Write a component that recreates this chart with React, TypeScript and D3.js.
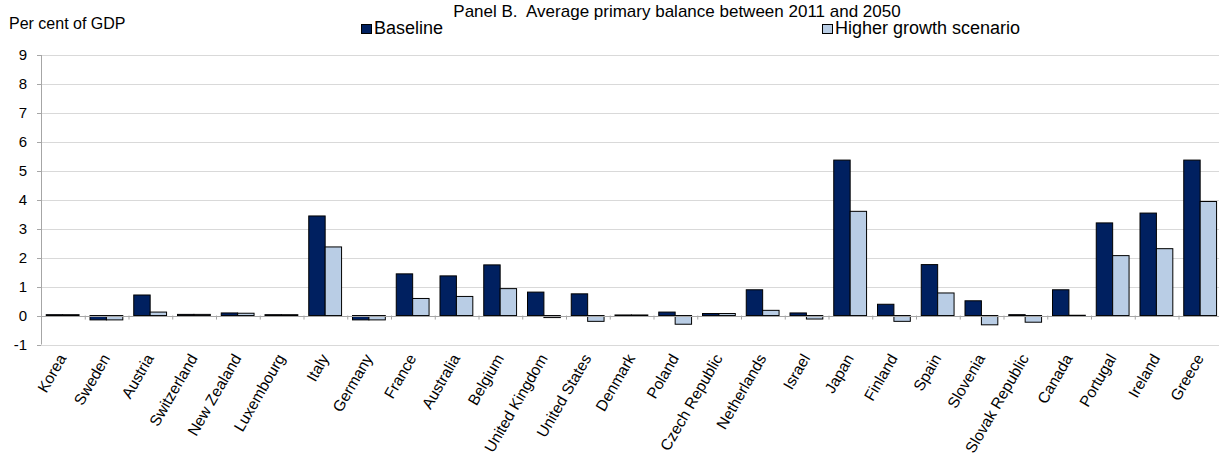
import React from "react";
import * as d3 from "d3";

const categories = [
  "Korea", "Sweden", "Austria", "Switzerland", "New Zealand", "Luxembourg", "Italy",
  "Germany", "France", "Australia", "Belgium", "United Kingdom", "United States",
  "Denmark", "Poland", "Czech Republic", "Netherlands", "Israel", "Japan", "Finland",
  "Spain", "Slovenia", "Slovak Republic", "Canada", "Portugal", "Ireland", "Greece",
];
const baseline = [
  0.03, -0.15, 0.71, 0.04, 0.09, 0.03, 3.44, -0.15, 1.44, 1.37, 1.75, 0.81, 0.75,
  0.02, 0.12, 0.07, 0.89, 0.09, 5.37, 0.39, 1.76, 0.51, 0.03, 0.89, 3.2, 3.54, 5.37,
];
const higherGrowth = [
  0.03, -0.15, 0.12, 0.04, 0.08, 0.03, 2.37, -0.15, 0.59, 0.66, 0.93, -0.07, -0.2,
  0.02, -0.3, 0.07, 0.18, -0.12, 3.6, -0.2, 0.78, -0.32, -0.23, 0.01, 2.07, 2.31, 3.94,
];
const yTicks = [-1, 0, 1, 2, 3, 4, 5, 6, 7, 8, 9];
const seriesNames = ["Baseline", "Higher growth scenario"];
const title = "Panel B.  Average primary balance between 2011 and 2050";
const yLabel = "Per cent of GDP";

const W = 1219;
const H = 461;
const left = 41;
const bandW = 43.75;
const right = left + bandW * categories.length;
const top = 55;
const bottom = 344.5;
const colors = ["#002060", "#B9CDE5"];
const font = "Arial, 'Liberation Sans', sans-serif";

export default function App() {
  const x = d3.scaleBand<string>().domain(categories).range([left, right]).padding(0);
  const y = d3.scaleLinear().domain([-1, 9]).range([bottom, top]);
  const bw = x.bandwidth();
  const barW = bw * 0.375;
  const off = bw * 0.12;
  const series = [baseline, higherGrowth];

  return (
    <svg width={W} height={H} style={{ position: "absolute", left: 0, top: 0, fontFamily: font }}>
      <rect width={W} height={H} fill="#fff" />
      <text x={677} y={16.5} textAnchor="middle" fontSize={17} fill="#000" style={{ whiteSpace: "pre" }}>{title}</text>
      <text x={9} y={29} fontSize={16} fill="#000">{yLabel}</text>
      {/* legend */}
      {seriesNames.map((n, i) => {
        const lx = i === 0 ? 361 : 822;
        return (
          <g key={n}>
            <rect x={lx + 0.5} y={24.5} width={10} height={9} fill={colors[i]} stroke="#000" strokeWidth={1} />
            <text x={lx + 13} y={33.5} fontSize={18} fill="#000">{n}</text>
          </g>
        );
      })}
      {/* gridlines */}
      {yTicks.map((t) => (
        <line key={t} x1={left} x2={W} y1={Math.round(y(t)) + 0.5} y2={Math.round(y(t)) + 0.5}
          stroke="#D9D9D9" strokeWidth={1.2} />
      ))}
      {/* y axis */}
      <line x1={left + 0.5} x2={left + 0.5} y1={y(9)} y2={y(-1)} stroke="#A6A6A6" strokeWidth={1} />
      {yTicks.map((t) => (
        <g key={"yt" + t}>
          <line x1={left - 4} x2={left} y1={Math.round(y(t)) + 0.5} y2={Math.round(y(t)) + 0.5} stroke="#A6A6A6" />
          <text x={27} y={y(t) + 5} textAnchor="end" fontSize={15} fill="#000">{t}</text>
        </g>
      ))}
      {/* bars */}
      {categories.map((c, ci) => (
        <g key={c}>
          {series.map((s, si) => {
            const v = s[ci];
            const x0 = (x(c) as number) + off + si * barW;
            const y0 = y(Math.max(0, v));
            const h = Math.abs(y(v) - y(0));
            return (
              <rect key={si} x={x0} y={y0} width={barW} height={Math.max(h, 0.5)}
                fill={colors[si]} stroke="#000" strokeWidth={1} />
            );
          })}
        </g>
      ))}
      {/* zero axis */}
      <line x1={left} x2={W} y1={Math.round(y(0)) + 0.5} y2={Math.round(y(0)) + 0.5} stroke="#A6A6A6" strokeWidth={1.2} />
      {d3.range(categories.length + 1).map((i) => (
        <line key={"xt" + i} x1={left + i * bw + 0.5} x2={left + i * bw + 0.5}
          y1={y(0)} y2={y(0) + 4} stroke="#A6A6A6" />
      ))}
      {/* category labels */}
      {categories.map((c) => {
        const cx = (x(c) as number) + bw / 2 + 4;
        const cy = 358;
        return (
          <text key={"l" + c} transform={`translate(${cx},${cy}) rotate(-60)`} textAnchor="end"
            fontSize={15.5} fill="#000">{c}</text>
        );
      })}
    </svg>
  );
}
